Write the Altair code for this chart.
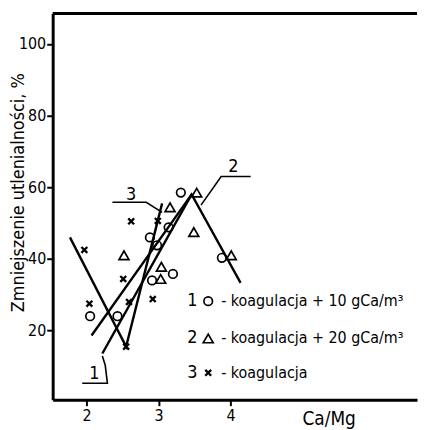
import altair as alt
import pandas as pd

FONT = "DejaVu Sans Condensed, Liberation Sans, Arial"

# ---- data ----
circ_x = [2.05, 2.43, 2.88, 2.98, 2.91, 3.20, 3.14, 3.31, 3.88]
circ_y = [24.0, 24.0, 46.0, 43.8, 34.0, 35.8, 48.8, 58.5, 40.3]

tri_x = [2.52, 3.04, 3.03, 3.16, 3.49, 3.53, 4.01]
tri_y = [41.0, 37.8, 34.4, 54.4, 47.5, 58.5, 41.0]

crs_x = [1.97, 2.04, 2.51, 2.62, 2.59, 2.55, 2.92, 2.99]
crs_y = [42.5, 27.5, 34.4, 50.5, 28.0, 15.5, 28.8, 50.6]

line1_x = [2.22, 3.46]
line1_y = [13.6, 58.0]
line2_x = [2.07, 3.46, 4.14]
line2_y = [18.6, 58.0, 33.3]
line3_x = [1.77, 2.55, 3.05]
line3_y = [46.0, 15.5, 55.5]

lead1_x = [1.94, 2.29, 2.26, 2.22]
lead1_y = [5.3, 5.3, 10.3, 12.9]
lead2_x = [3.59, 3.87, 4.28]
lead2_y = [55.0, 63.0, 63.0]
lead3_x = [2.36, 2.83, 3.05]
lead3_y = [55.8, 55.8, 53.0]

lab_text = ["1", "2", "3"]
lab_x = [2.11, 4.04, 2.62]
lab_y = [7.8, 65.6, 57.8]

leg_num = ["1", "2", "3"]
leg_text = ["- koagulacja + 10 gCa/m\u00b3", "- koagulacja + 20 gCa/m\u00b3", "- koagulacja"]
leg_y = [28.2, 17.8, 8.2]
leg_num_x = 3.47
leg_mark_x = 3.69
leg_text_x = 3.87

y_ticks = [20, 40, 60, 80, 100]
x_ticks = [2, 3, 4]
X_DOM = [1.53, 6.59]
Y_DOM = [0.7, 108.5]
W, H = 367, 389

# ---- tables ----
pts = pd.DataFrame(
    {"x": circ_x + tri_x + crs_x + [leg_mark_x] * 3,
     "y": circ_y + tri_y + crs_y + leg_y,
     "s": ["c"] * len(circ_x) + ["t"] * len(tri_x) + ["x"] * len(crs_x) + ["c", "t", "x"]}
)

def seg(xs, ys, name):
    return pd.DataFrame({"x": xs, "y": ys, "g": name, "o": list(range(len(xs)))})

lines = pd.concat([seg(line1_x, line1_y, "1"), seg(line2_x, line2_y, "2"), seg(line3_x, line3_y, "3")])
leads = pd.concat([seg(lead1_x, lead1_y, "1"), seg(lead2_x, lead2_y, "2"), seg(lead3_x, lead3_y, "3")])
labs = pd.DataFrame({"x": lab_x, "y": lab_y, "t": lab_text})
legn = pd.DataFrame({"x": [leg_num_x] * 3, "y": leg_y, "t": leg_num})
legt = pd.DataFrame({"x": [leg_text_x] * 3, "y": leg_y, "t": leg_text})

xs = alt.Scale(domain=X_DOM, nice=False, zero=False)
ys = alt.Scale(domain=Y_DOM, nice=False, zero=False)

xaxis = alt.Axis(
    values=x_ticks, title="Ca/Mg", grid=False, labelFontSize=16, labelFont=FONT,
    titleFont=FONT, titleFontSize=19, titleFontWeight="normal",
    titleX=278, titleY=19, titleAnchor="start", titleAlign="center", titleBaseline="middle",
    domainColor="black", domainWidth=3, tickColor="black", tickWidth=2, tickSize=6,
    labelColor="black", titleColor="black", labelPadding=2)
yaxis = alt.Axis(
    values=y_ticks, title="Zmniejszenie utlenialności, %", grid=False, labelFontSize=16,
    labelFont=FONT, titleFont=FONT, titleFontSize=18, titleFontWeight="normal",
    titleX=-34, titleY=180, titleAngle=270, titleAlign="center", titleBaseline="middle",
    titleAnchor="start",
    domainColor="black", domainWidth=3, tickColor="black", tickWidth=2, tickSize=6,
    labelColor="black", titleColor="black", labelPadding=1)

X = alt.X("x:Q", scale=xs, axis=xaxis)
Y = alt.Y("y:Q", scale=ys, axis=yaxis)

frame_top = alt.Chart(pd.DataFrame({"a": [0]})).mark_rule(color="black", strokeWidth=3).encode(
    x=alt.value(0), x2=alt.value(W), y=alt.value(0))

line_layer = alt.Chart(lines).mark_line(color="black", strokeWidth=2.4).encode(
    x=X, y=Y, detail="g:N", order="o:Q")
lead_layer = alt.Chart(leads).mark_line(color="black", strokeWidth=1.6).encode(
    x=X, y=Y, detail="g:N", order="o:Q")

circ = alt.Chart(pts[pts.s == "c"]).mark_point(
    shape="circle", size=75, filled=False, color="black", strokeWidth=1.7, opacity=1).encode(x=X, y=Y)
tri = alt.Chart(pts[pts.s == "t"]).mark_point(
    shape="triangle-up", size=100, filled=False, color="black", strokeWidth=1.7, opacity=1).encode(x=X, y=Y)
crs = alt.Chart(pts[pts.s == "x"]).mark_point(
    shape="M-1,-1L1,1M-1,1L1,-1", size=35, filled=False, color="black", strokeWidth=2.3, opacity=1).encode(x=X, y=Y)

labs_layer = alt.Chart(labs).mark_text(font=FONT, fontSize=18, color="black").encode(
    x=X, y=Y, text="t:N")
legn_layer = alt.Chart(legn).mark_text(font=FONT, fontSize=18, color="black").encode(
    x=X, y=Y, text="t:N")
legt_layer = alt.Chart(legt).mark_text(font=FONT, fontSize=16, color="black", align="left").encode(
    x=X, y=Y, text="t:N")

chart = alt.layer(
    line_layer, lead_layer, circ, tri, crs, labs_layer, legn_layer, legt_layer, frame_top
).properties(
    width=W, height=H, padding={"left": 45, "top": 4, "right": 2, "bottom": 29},
    autosize=alt.AutoSizeParams(type="none"), background="white"
).configure_view(stroke=None)

chart.save("out.html", embed_options={"renderer": "svg", "actions": False})
